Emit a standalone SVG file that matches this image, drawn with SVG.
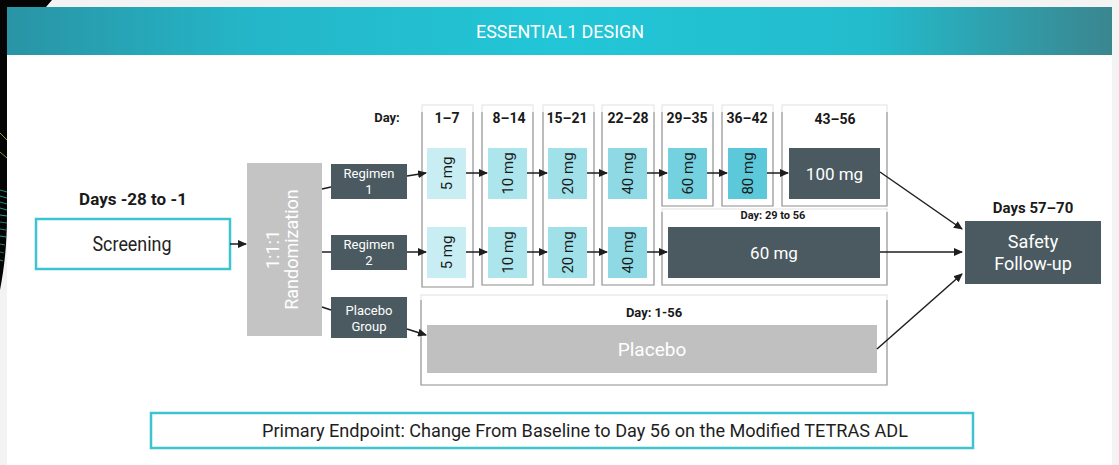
<svg xmlns="http://www.w3.org/2000/svg" width="1119" height="465" viewBox="0 0 1119 465">
  <defs>
    <linearGradient id="bandFill" x1="0" y1="0" x2="1" y2="0">
      <stop offset="0" stop-color="#2994a4"/>
      <stop offset="0.22" stop-color="#24b6c8"/>
      <stop offset="0.5" stop-color="#22c6d7"/>
      <stop offset="0.78" stop-color="#23bccd"/>
      <stop offset="1" stop-color="#3a868f"/>
    </linearGradient>
    <marker id="arrowHead" markerWidth="9" markerHeight="8" refX="8" refY="4" orient="auto" markerUnits="userSpaceOnUse">
      <path d="M0,0 L9,4 L0,8 Z" fill="#1e1e1e"/>
    </marker>
    <style>
      .bold { font-family: Roboto, "Liberation Sans", sans-serif; font-weight: 700; fill: #1a1a1a; text-anchor: middle; }
      .cond { font-family: Roboto, "Liberation Sans", sans-serif; text-anchor: middle; }
      .dark { fill: #4a5a60; }
      .wtxt { font-family: Roboto, "Liberation Sans", sans-serif; fill: #ffffff; text-anchor: middle; font-weight: 400; }
      .dose { font-family: Roboto, "Liberation Sans", sans-serif; fill: #1a1a1a; font-size: 15px; font-weight: 400; text-anchor: middle; }
      .col { fill: none; stroke: #e2e2e2; stroke-width: 1; }
      .colEdge { fill: none; stroke: #9a9a9a; stroke-width: 1.2; }
      .link { fill: none; stroke: #1e1e1e; stroke-width: 1.5; }
      .arrow { fill: none; stroke: #1e1e1e; stroke-width: 1.5; marker-end: url(#arrowHead); }
    </style>
  </defs>

  <!-- page backdrop -->
  <rect x="0" y="0" width="1119" height="465" fill="#f3f3f3"/>
  <path d="M0,0 H52 L46,7 H7 V215 C7,245 4,270 0,290 Z" fill="#050505"/>
  <g stroke-width="0.8" fill="none">
    <path d="M0,133 L7,140" stroke="#b9c94a"/>
    <path d="M0,152 L7,158" stroke="#9fbf46"/>
    <path d="M0,190 L7,192" stroke="#2fae9a"/>
    <path d="M0,196 L7,198" stroke="#35c0a8"/>
    <path d="M0,202 L7,204" stroke="#2aa890"/>
    <path d="M0,208 L7,210" stroke="#30b8a4"/>
    <path d="M0,215 L7,216" stroke="#3cc8ae"/>
    <path d="M0,222 L7,223" stroke="#26a08c"/>
    <path d="M0,229 L6,230" stroke="#2fb09a"/>
    <path d="M0,236 L6,237" stroke="#38c2aa"/>
    <path d="M0,244 L5,245" stroke="#2aa890"/>
    <path d="M0,252 L4,253" stroke="#23907e"/>
    <path d="M0,260 L3,261" stroke="#2aa890"/>
  </g>
  <rect x="7" y="7" width="1105" height="458" fill="#ffffff"/>

  <!-- title band -->
  <g id="title">
    <rect x="7" y="7" width="1105" height="48" fill="url(#bandFill)"/>
    <text class="cond" x="560" y="38" font-size="19" fill="#ffffff" textLength="168" lengthAdjust="spacingAndGlyphs">ESSENTIAL1 DESIGN</text>
  </g>

  <!-- screening -->
  <g id="screening">
    <text class="bold" x="133" y="205" font-size="17">Days -28 to -1</text>
    <rect x="36" y="219" width="194" height="50" fill="#ffffff" stroke="#3cc4d0" stroke-width="2.5"/>
    <text class="cond" x="132" y="251" font-size="20" fill="#222222" textLength="79" lengthAdjust="spacingAndGlyphs">Screening</text>
  </g>

  <!-- randomization -->
  <g id="randomization">
    <rect x="247" y="163" width="75" height="173" fill="#c4c4c4"/>
    <g transform="translate(284.5,249.5) rotate(-90)">
      <text class="wtxt" x="0" y="-5.5" font-size="18">1:1:1</text>
      <text class="wtxt" x="0" y="13" font-size="18">Randomization</text>
    </g>
  </g>

  <!-- treatment groups -->
  <g id="regimen-1">
    <rect class="dark" x="331" y="164" width="76" height="35"/>
    <text class="wtxt" x="369" y="178" font-size="13">Regimen</text>
    <text class="wtxt" x="369" y="194" font-size="13">1</text>
  </g>
  <g id="regimen-2">
    <rect class="dark" x="331" y="235" width="76" height="35"/>
    <text class="wtxt" x="369" y="249" font-size="13">Regimen</text>
    <text class="wtxt" x="369" y="265" font-size="13">2</text>
  </g>
  <g id="placebo-group">
    <rect class="dark" x="331" y="297" width="76" height="41"/>
    <text class="wtxt" x="369" y="315" font-size="13">Placebo</text>
    <text class="wtxt" x="369" y="331" font-size="13">Group</text>
  </g>

  <!-- day columns -->
  <g id="day-columns">
    <text class="bold" x="387" y="122" font-size="13">Day:</text>
    <rect class="col" x="422" y="105" width="51" height="182"/>
    <path class="colEdge" d="M422,112 V287 H473 V112"/>
    <rect class="col" x="482" y="105" width="51" height="180"/>
    <path class="colEdge" d="M482,112 V285 H533 V112"/>
    <rect class="col" x="543" y="105" width="51" height="180"/>
    <path class="colEdge" d="M543,112 V285 H594 V112"/>
    <rect class="col" x="602" y="105" width="52" height="180"/>
    <path class="colEdge" d="M602,112 V285 H654 V112"/>
    <rect class="col" x="662" y="105" width="51" height="101"/>
    <path class="colEdge" d="M662,112 V206 H713 V112"/>
    <rect class="col" x="722" y="105" width="51" height="101"/>
    <path class="colEdge" d="M722,112 V206 H773 V112"/>
    <rect class="col" x="782" y="105" width="105" height="101"/>
    <path class="colEdge" d="M782,112 V206 H887 V112"/>
    <rect class="col" x="662" y="209" width="225" height="76"/>
    <path class="colEdge" d="M662,212 V285 H887 V212"/>
    <rect class="col" x="421" y="295" width="466" height="90"/>
    <path class="colEdge" d="M421,300 V385 H887 V300"/>

    <text class="bold" x="447" y="123" font-size="14">1–7</text>
    <text class="bold" x="509" y="123" font-size="14">8–14</text>
    <text class="bold" x="567" y="123" font-size="14">15–21</text>
    <text class="bold" x="628" y="123" font-size="14">22–28</text>
    <text class="bold" x="687" y="123" font-size="14">29–35</text>
    <text class="bold" x="747" y="123" font-size="14">36–42</text>
    <text class="bold" x="835" y="124" font-size="14">43–56</text>
    <text class="bold" x="773" y="219" font-size="11">Day: 29 to 56</text>
    <text class="bold" x="654" y="317" font-size="13">Day: 1-56</text>
  </g>

  <!-- regimen 1 titration -->
  <g id="r1-5mg">
    <rect x="427" y="148" width="39" height="51" fill="#c8eef3"/>
    <text class="dose" transform="translate(446.5,173.5) rotate(-90)" y="5.5">5 mg</text>
  </g>
  <g id="r1-10mg">
    <rect x="488" y="148" width="39" height="51" fill="#ade5ed"/>
    <text class="dose" transform="translate(507.5,173.5) rotate(-90)" y="5.5">10 mg</text>
  </g>
  <g id="r1-20mg">
    <rect x="548" y="148" width="39" height="51" fill="#a0e0e9"/>
    <text class="dose" transform="translate(567.5,173.5) rotate(-90)" y="5.5">20 mg</text>
  </g>
  <g id="r1-40mg">
    <rect x="608" y="148" width="39" height="51" fill="#8ed9e4"/>
    <text class="dose" transform="translate(627.5,173.5) rotate(-90)" y="5.5">40 mg</text>
  </g>
  <g id="r1-60mg">
    <rect x="668" y="148" width="39" height="51" fill="#74d1df"/>
    <text class="dose" transform="translate(687.5,173.5) rotate(-90)" y="5.5">60 mg</text>
  </g>
  <g id="r1-80mg">
    <rect x="728" y="148" width="39" height="51" fill="#5bc9da"/>
    <text class="dose" transform="translate(747.5,173.5) rotate(-90)" y="5.5">80 mg</text>
  </g>
  <g id="r1-100mg">
    <rect class="dark" x="789" y="148" width="91" height="51"/>
    <text class="wtxt" x="834.5" y="180" font-size="17">100 mg</text>
  </g>

  <!-- regimen 2 titration -->
  <g id="r2-5mg">
    <rect x="427" y="227" width="39" height="51" fill="#c8eef3"/>
    <text class="dose" transform="translate(446.5,252.5) rotate(-90)" y="5.5">5 mg</text>
  </g>
  <g id="r2-10mg">
    <rect x="488" y="227" width="39" height="51" fill="#ade5ed"/>
    <text class="dose" transform="translate(507.5,252.5) rotate(-90)" y="5.5">10 mg</text>
  </g>
  <g id="r2-20mg">
    <rect x="548" y="227" width="39" height="51" fill="#a0e0e9"/>
    <text class="dose" transform="translate(567.5,252.5) rotate(-90)" y="5.5">20 mg</text>
  </g>
  <g id="r2-40mg">
    <rect x="608" y="227" width="39" height="51" fill="#8ed9e4"/>
    <text class="dose" transform="translate(627.5,252.5) rotate(-90)" y="5.5">40 mg</text>
  </g>
  <g id="r2-60mg">
    <rect class="dark" x="668" y="227" width="212" height="51"/>
    <text class="wtxt" x="774" y="259" font-size="17">60 mg</text>
  </g>

  <!-- placebo arm -->
  <g id="placebo">
    <rect x="427" y="325" width="450" height="48" fill="#c0c0c0"/>
    <text class="wtxt" x="652" y="356" font-size="19">Placebo</text>
  </g>

  <!-- follow-up -->
  <g id="safety-follow-up">
    <text class="bold" x="1033" y="213" font-size="15">Days 57–70</text>
    <rect class="dark" x="965" y="221" width="136" height="63"/>
    <text class="wtxt" x="1033" y="248" font-size="18">Safety</text>
    <text class="wtxt" x="1033" y="270" font-size="18">Follow-up</text>
  </g>

  <!-- endpoint -->
  <g id="primary-endpoint">
    <rect x="151" y="413" width="822" height="35" fill="#ffffff" stroke="#3cc4d0" stroke-width="2.5"/>
    <text class="cond" x="585" y="437" font-size="19" fill="#1e1e1e" textLength="646" lengthAdjust="spacingAndGlyphs">Primary Endpoint: Change From Baseline to Day 56 on the Modified TETRAS ADL</text>
  </g>

  <!-- connectors -->
  <g id="connectors">
    <path class="arrow" d="M230,244 H246"/>
    <path class="link" d="M322,189 L331,187"/>
    <path class="link" d="M322,252 H331"/>
    <path class="link" d="M322,307 L331,310"/>

    <path class="arrow" d="M407,176 L426,173"/>
    <path class="arrow" d="M407,252 H426"/>
    <path class="arrow" d="M407,329 L426,335"/>

    <path class="arrow" d="M466,173 H487"/>
    <path class="arrow" d="M527,173 H547"/>
    <path class="arrow" d="M587,173 H607"/>
    <path class="arrow" d="M647,173 H667"/>
    <path class="arrow" d="M707,173 H727"/>
    <path class="arrow" d="M767,173 H788"/>

    <path class="arrow" d="M466,252 H487"/>
    <path class="arrow" d="M527,252 H547"/>
    <path class="arrow" d="M587,252 H607"/>
    <path class="arrow" d="M647,252 H667"/>

    <path class="arrow" d="M880,172 L962,229"/>
    <path class="arrow" d="M880,252 H962"/>
    <path class="arrow" d="M877,349 L962,274"/>
  </g>
</svg>
